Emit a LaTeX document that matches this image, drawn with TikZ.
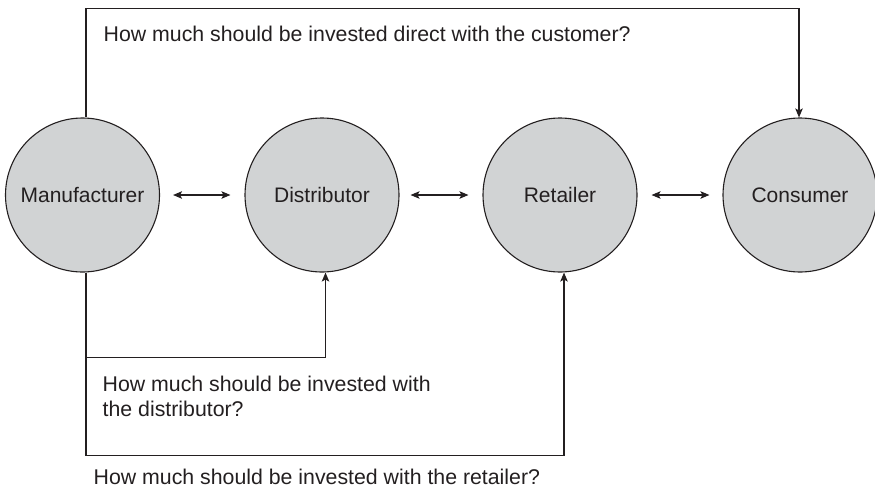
\documentclass[tikz,border=0pt]{standalone}
\usepackage{fontspec}
\setmainfont{Liberation Sans}
\usetikzlibrary{arrows.meta}
\definecolor{linec}{HTML}{231F20}
\definecolor{circfill}{HTML}{D1D3D4}
\definecolor{textc}{HTML}{231F20}
\begin{document}
\begin{tikzpicture}[x=1pt,y=-1pt,
  party/.style={circle, draw=linec, fill=circfill, line width=1.1pt, minimum size=154pt, inner sep=0pt, font=\fontsize{21}{25}\selectfont, text=textc},
  conn/.style={draw=linec, line width=1.1pt},
  tipend/.style={-{Stealth[length=9pt,width=7.5pt,inset=2pt]}},
  bothend/.style={{Stealth[length=9pt,width=7.5pt,inset=2pt]}-{Stealth[length=9pt,width=7.5pt,inset=2pt]}},
  lbl/.style={font=\fontsize{21.3}{24.5}\selectfont, text=textc, inner sep=0pt, anchor=base west, align=left}]
\useasboundingbox (0,0) rectangle (875,488);
\node[party] (M) at (82.5,195) {Manufacturer};
\node[party] (D) at (322,195) {Distributor};
\node[party] (R) at (560,195) {Retailer};
\node[party] (C) at (800,195) {Consumer};

\draw[conn, bothend, shorten <=13pt, shorten >=14pt] (M) -- (D);
\draw[conn, bothend, shorten <=11pt, shorten >=14pt] (D) -- (R);
\draw[conn, bothend, shorten <=14pt, shorten >=13pt] (R) -- (C);

\draw[conn, tipend] ([xshift=3.5pt]M.north) -- ++(0,-109) -| ([xshift=-1pt]C.north);
\draw[conn, tipend] ([xshift=3.5pt]M.south) -- ++(0,84.7) -| ([xshift=3.5pt]D.south);
\draw[conn, tipend] ([xshift=3.5pt]M.south) -- ++(0,183) -| ([xshift=4pt]R.south);

\node[lbl] (q1) at (103.5,41) {How much should be invested direct with the customer?};
\node[lbl] (q2) at (102.5,416) {How much should be invested with\\the distributor?};
\node[lbl] (q3) at (93.5,484) {How much should be invested with the retailer?};
\end{tikzpicture}
\end{document}
